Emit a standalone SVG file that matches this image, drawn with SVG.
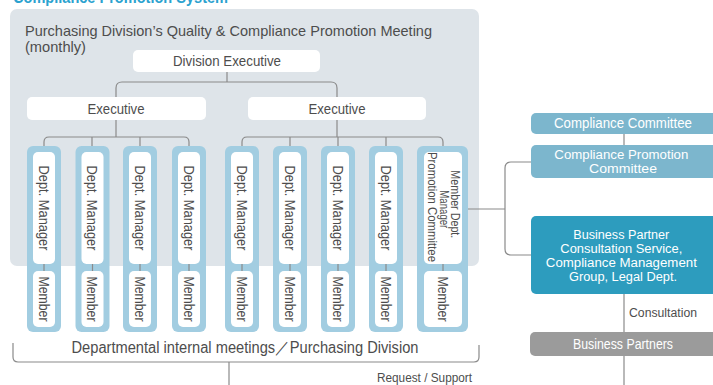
<svg xmlns="http://www.w3.org/2000/svg" width="713" height="385" viewBox="0 0 713 385">
  <style>
    .t { font-family: "Liberation Sans", Arial, sans-serif; fill: #4d4d4d; }
    .w { font-family: "Liberation Sans", Arial, sans-serif; fill: #ffffff; }
    .box { fill: #ffffff; }
    .col { fill: #a2cde1; }
    .ln { fill: none; stroke: #8a8a8a; stroke-width: 1.2; }
  </style>
  <rect width="713" height="385" fill="#ffffff"/>

  <!-- heading, mostly above the top edge -->
  <text x="13" y="3" font-family="Liberation Sans, Arial, sans-serif" font-size="17" font-weight="bold" fill="#2ba2cf" textLength="215" lengthAdjust="spacingAndGlyphs">Compliance Promotion System</text>

  <!-- meeting panel -->
  <g id="meeting-panel">
    <rect x="10" y="9" width="469" height="257" rx="7" fill="#dee4e9"/>
    <text class="t" x="25" y="36" font-size="15" textLength="407" lengthAdjust="spacingAndGlyphs">Purchasing Division’s Quality &amp; Compliance Promotion Meeting</text>
    <text class="t" x="25" y="52" font-size="15" textLength="61" lengthAdjust="spacingAndGlyphs">(monthly)</text>
  </g>

  <!-- connectors -->
  <g id="connectors">
    <path class="ln" d="M227,72 V82"/>
    <path class="ln" d="M116,97 V88 Q116,82 122,82 H331 Q337,82 337,88 V97"/>
    <path class="ln" d="M116,120 V137"/>
    <path class="ln" d="M44,146 V142 Q44,137 49,137 H184 Q189,137 189,142 V146"/>
    <path class="ln" d="M92,137 V146 M140,137 V146"/>
    <path class="ln" d="M337,120 V137"/>
    <path class="ln" d="M242,146 V142 Q242,137 247,137 H438 Q443,137 443,142 V146"/>
    <path class="ln" d="M290,137 V146 M338,137 V146 M386,137 V146"/>
    <path class="ln" d="M468,209 H505"/>
    <path class="ln" d="M531,162 H511 Q505,162 505,168 V249 Q505,255 511,255 H531"/>
    <path class="ln" d="M624,134 V145"/>
    <path class="ln" d="M624,294 V385"/>
    <path class="ln" d="M13,343 V357 Q13,362 18,362 H474 Q479,362 479,357 V345"/>
    <path class="ln" d="M229,362 V385"/>
  </g>

  <!-- executives -->
  <g id="division-executive">
    <rect class="box" x="133" y="50" width="187" height="22" rx="5"/>
    <text class="t" x="227" y="66" font-size="14" text-anchor="middle" textLength="108" lengthAdjust="spacingAndGlyphs">Division Executive</text>
  </g>
  <g id="executive-left">
    <rect class="box" x="27" y="97" width="179" height="23" rx="5"/>
    <text class="t" x="116" y="114" font-size="14" text-anchor="middle" textLength="57" lengthAdjust="spacingAndGlyphs">Executive</text>
  </g>
  <g id="executive-right">
    <rect class="box" x="248" y="97" width="178" height="23" rx="5"/>
    <text class="t" x="337" y="114" font-size="14" text-anchor="middle" textLength="57" lengthAdjust="spacingAndGlyphs">Executive</text>
  </g>

  <!-- department columns -->
  <g id="dept-1">
    <rect class="col" x="27" y="146" width="34" height="186" rx="6"/>
    <rect class="box" x="33" y="152" width="22" height="112" rx="5"/>
    <rect class="box" x="33" y="271" width="22" height="56" rx="5"/>
    <path class="ln" d="M44,264 V271"/>
    <text class="t" transform="translate(38.5,208) rotate(90)" font-size="15" text-anchor="middle" textLength="85" lengthAdjust="spacingAndGlyphs">Dept. Manager</text>
    <text class="t" transform="translate(38.5,299) rotate(90)" font-size="15" text-anchor="middle" textLength="45" lengthAdjust="spacingAndGlyphs">Member</text>
  </g>
  <g id="dept-2">
    <rect class="col" x="75.5" y="146" width="34" height="186" rx="6"/>
    <rect class="box" x="81.5" y="152" width="22" height="112" rx="5"/>
    <rect class="box" x="81.5" y="271" width="22" height="56" rx="5"/>
    <path class="ln" d="M92.5,264 V271"/>
    <text class="t" transform="translate(87,208) rotate(90)" font-size="15" text-anchor="middle" textLength="85" lengthAdjust="spacingAndGlyphs">Dept. Manager</text>
    <text class="t" transform="translate(87,299) rotate(90)" font-size="15" text-anchor="middle" textLength="45" lengthAdjust="spacingAndGlyphs">Member</text>
  </g>
  <g id="dept-3">
    <rect class="col" x="123" y="146" width="34" height="186" rx="6"/>
    <rect class="box" x="129" y="152" width="22" height="112" rx="5"/>
    <rect class="box" x="129" y="271" width="22" height="56" rx="5"/>
    <path class="ln" d="M140,264 V271"/>
    <text class="t" transform="translate(134.5,208) rotate(90)" font-size="15" text-anchor="middle" textLength="85" lengthAdjust="spacingAndGlyphs">Dept. Manager</text>
    <text class="t" transform="translate(134.5,299) rotate(90)" font-size="15" text-anchor="middle" textLength="45" lengthAdjust="spacingAndGlyphs">Member</text>
  </g>
  <g id="dept-4">
    <rect class="col" x="172" y="146" width="34" height="186" rx="6"/>
    <rect class="box" x="178" y="152" width="22" height="112" rx="5"/>
    <rect class="box" x="178" y="271" width="22" height="56" rx="5"/>
    <path class="ln" d="M189,264 V271"/>
    <text class="t" transform="translate(183.5,208) rotate(90)" font-size="15" text-anchor="middle" textLength="85" lengthAdjust="spacingAndGlyphs">Dept. Manager</text>
    <text class="t" transform="translate(183.5,299) rotate(90)" font-size="15" text-anchor="middle" textLength="45" lengthAdjust="spacingAndGlyphs">Member</text>
  </g>
  <g id="dept-5">
    <rect class="col" x="225" y="146" width="34" height="186" rx="6"/>
    <rect class="box" x="231" y="152" width="22" height="112" rx="5"/>
    <rect class="box" x="231" y="271" width="22" height="56" rx="5"/>
    <path class="ln" d="M242,264 V271"/>
    <text class="t" transform="translate(236.5,208) rotate(90)" font-size="15" text-anchor="middle" textLength="85" lengthAdjust="spacingAndGlyphs">Dept. Manager</text>
    <text class="t" transform="translate(236.5,299) rotate(90)" font-size="15" text-anchor="middle" textLength="45" lengthAdjust="spacingAndGlyphs">Member</text>
  </g>
  <g id="dept-6">
    <rect class="col" x="273" y="146" width="34" height="186" rx="6"/>
    <rect class="box" x="279" y="152" width="22" height="112" rx="5"/>
    <rect class="box" x="279" y="271" width="22" height="56" rx="5"/>
    <path class="ln" d="M290,264 V271"/>
    <text class="t" transform="translate(284.5,208) rotate(90)" font-size="15" text-anchor="middle" textLength="85" lengthAdjust="spacingAndGlyphs">Dept. Manager</text>
    <text class="t" transform="translate(284.5,299) rotate(90)" font-size="15" text-anchor="middle" textLength="45" lengthAdjust="spacingAndGlyphs">Member</text>
  </g>
  <g id="dept-7">
    <rect class="col" x="321" y="146" width="34" height="186" rx="6"/>
    <rect class="box" x="327" y="152" width="22" height="112" rx="5"/>
    <rect class="box" x="327" y="271" width="22" height="56" rx="5"/>
    <path class="ln" d="M338,264 V271"/>
    <text class="t" transform="translate(332.5,208) rotate(90)" font-size="15" text-anchor="middle" textLength="85" lengthAdjust="spacingAndGlyphs">Dept. Manager</text>
    <text class="t" transform="translate(332.5,299) rotate(90)" font-size="15" text-anchor="middle" textLength="45" lengthAdjust="spacingAndGlyphs">Member</text>
  </g>
  <g id="dept-8">
    <rect class="col" x="369" y="146" width="34" height="186" rx="6"/>
    <rect class="box" x="375" y="152" width="22" height="112" rx="5"/>
    <rect class="box" x="375" y="271" width="22" height="56" rx="5"/>
    <path class="ln" d="M386,264 V271"/>
    <text class="t" transform="translate(380.5,208) rotate(90)" font-size="15" text-anchor="middle" textLength="85" lengthAdjust="spacingAndGlyphs">Dept. Manager</text>
    <text class="t" transform="translate(380.5,299) rotate(90)" font-size="15" text-anchor="middle" textLength="45" lengthAdjust="spacingAndGlyphs">Member</text>
  </g>
  <g id="dept-promotion">
    <rect class="col" x="417" y="146" width="51" height="186" rx="6"/>
    <rect class="box" x="424" y="152" width="38" height="112" rx="5"/>
    <rect class="box" x="424" y="271" width="38" height="56" rx="5"/>
    <path class="ln" d="M443,264 V271"/>
    <!-- three rotated lines in one text block; the y offsets step the lines leftwards -->
    <text class="t" transform="translate(450.5,207) rotate(90)" font-size="12" text-anchor="middle">
      <tspan x="-1" y="0" textLength="68" lengthAdjust="spacingAndGlyphs">Member Dept.</tspan>
      <tspan x="4" y="11" textLength="38" lengthAdjust="spacingAndGlyphs">Manager</tspan>
      <tspan x="0" y="22.5" textLength="110" lengthAdjust="spacingAndGlyphs">Promotion Committee</tspan>
    </text>
    <text class="t" transform="translate(437.5,299) rotate(90)" font-size="15" text-anchor="middle" textLength="45" lengthAdjust="spacingAndGlyphs">Member</text>
  </g>

  <!-- bracket caption -->
  <text class="t" x="245" y="353" font-size="16" text-anchor="middle" textLength="347" lengthAdjust="spacingAndGlyphs">Departmental internal meetings／Purchasing Division</text>
  <text class="t" x="472" y="382" font-size="12" text-anchor="end" fill="#333" textLength="95" lengthAdjust="spacingAndGlyphs">Request / Support</text>

  <!-- company-side bodies -->
  <g id="compliance-committee">
    <rect x="531" y="113" width="190" height="21" rx="5" fill="#7cb6cd"/>
    <text class="w" x="623" y="128" font-size="14" text-anchor="middle" textLength="138" lengthAdjust="spacingAndGlyphs">Compliance Committee</text>
  </g>
  <g id="compliance-promotion-committee">
    <rect x="531" y="145" width="190" height="33" rx="5" fill="#7cb6cd"/>
    <text class="w" font-size="12" text-anchor="middle">
      <tspan x="623" y="158.5" textLength="134" lengthAdjust="spacingAndGlyphs">Compliance Promotion</tspan>
      <tspan x="623" y="172.5" textLength="68" lengthAdjust="spacingAndGlyphs">Committee</tspan>
    </text>
  </g>
  <g id="consultation-service">
    <rect x="531" y="216" width="190" height="78" rx="5" fill="#2d9cbe"/>
    <text class="w" font-size="12" text-anchor="middle">
      <tspan x="623" y="239" textLength="96" lengthAdjust="spacingAndGlyphs">Business Partner</tspan>
      <tspan x="623" y="253" textLength="122" lengthAdjust="spacingAndGlyphs">Consultation Service,</tspan>
      <tspan x="623" y="267" textLength="151" lengthAdjust="spacingAndGlyphs">Compliance Management</tspan>
      <tspan x="623" y="281" textLength="108" lengthAdjust="spacingAndGlyphs">Group, Legal Dept.</tspan>
    </text>
  </g>
  <text class="t" x="629" y="317" font-size="12" fill="#333" textLength="68" lengthAdjust="spacingAndGlyphs">Consultation</text>
  <g id="business-partners">
    <rect x="530" y="332" width="190" height="24" rx="5" fill="#9b9b9b"/>
    <text class="w" x="623" y="349" font-size="14" text-anchor="middle" textLength="100" lengthAdjust="spacingAndGlyphs">Business Partners</text>
  </g>
</svg>
